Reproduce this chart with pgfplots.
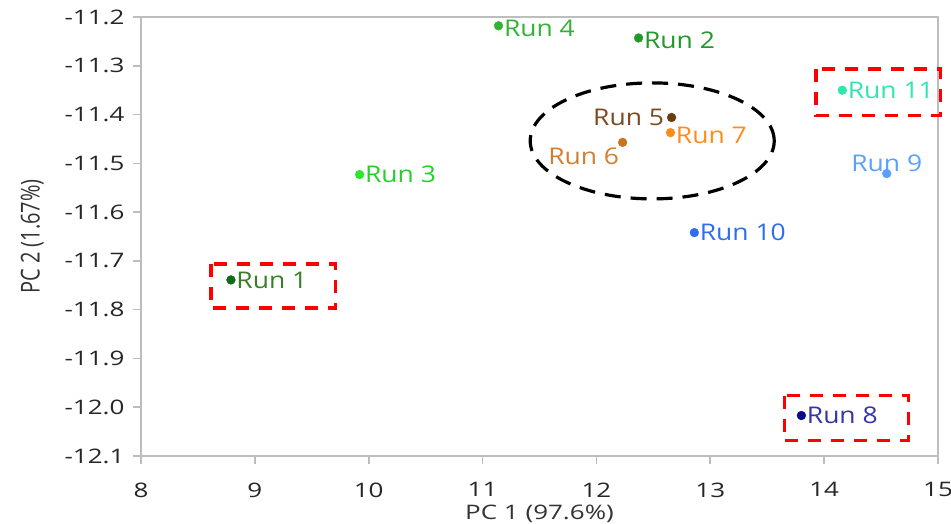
\documentclass[border=0pt]{standalone}
\usepackage{pgfplots}
\pgfplotsset{compat=1.18}
\usepackage{fontspec}
\setmainfont{Open Sans}
\newfontfamily\tickfont[FakeStretch=1.3]{Open Sans}
\newfontfamily\runfont[FakeStretch=1.15]{Open Sans}
\newfontfamily\ylabfont[FakeStretch=0.77]{Open Sans}

\definecolor{axgray}{HTML}{BDBDBD}
\definecolor{c1}{HTML}{0E6B1A}
\definecolor{c2}{HTML}{1F9A2A}
\definecolor{c3}{HTML}{2EE62E}
\definecolor{c4}{HTML}{33B233}
\definecolor{c5}{HTML}{6B3D0E}
\definecolor{c6}{HTML}{C8731E}
\definecolor{c7}{HTML}{FF8C1A}
\definecolor{c8}{HTML}{0A0A8C}
\definecolor{c9}{HTML}{5AA0FF}
\definecolor{c10}{HTML}{2F6CF0}
\definecolor{c11}{HTML}{2EE6B0}
\definecolor{l1}{HTML}{3C7D2A}
\definecolor{l8}{HTML}{3434A8}
\definecolor{l5}{HTML}{7A4A20}
\definecolor{l6}{HTML}{D08030}

\tikzset{run label/.style={font=\runfont\fontsize{23}{23}\selectfont}}

\begin{document}
\begin{tikzpicture}
\useasboundingbox (0,0) rectangle (951pt,523pt);
\begin{axis}[
  at={(141pt,67pt)}, anchor=south west,
  scale only axis, width=797pt, height=439pt,
  xmin=8, xmax=15, ymin=-12.1, ymax=-11.2,
  xtick={8,9,...,15},
  ytick={-12.1,-12.0,-11.9,-11.8,-11.7,-11.6,-11.5,-11.4,-11.3,-11.2},
  yticklabel style={/pgf/number format/fixed, /pgf/number format/fixed zerofill,
    /pgf/number format/precision=1},
  /pgf/number format/assume math mode=true,
  tick label style={font=\tickfont\fontsize{20}{20}\selectfont, text=black!85},
  xticklabel style={yshift=-15pt},
  yticklabel style={xshift=-5pt},
  axis line style={axgray, line width=1.6pt},
  tick style={axgray, line width=1.6pt},
  tick align=outside, major tick length=8pt,
  xtick pos=bottom, ytick pos=left,
  xlabel={PC 1 (97.6\%)}, ylabel={PC 2 (1.67\%)},
  xlabel style={font=\tickfont\fontsize{20}{20}\selectfont, text=black!80, yshift=-1pt},
  ylabel style={font=\ylabfont\fontsize{26}{26}\selectfont, text=black!80, yshift=14pt},
  clip=false,
  every axis plot/.append style={only marks, mark=*, mark size=4.4pt},
]
\addplot[c1, nodes near coords={Run 1},
  every node near coord/.style={run label, anchor=west, xshift=2pt, text=l1}]
  coordinates {(8.79,-11.739)};
\addplot[c2, nodes near coords={Run 2},
  every node near coord/.style={run label, anchor=west, xshift=2pt, yshift=-2pt, text=c2}]
  coordinates {(12.37,-11.243)};
\addplot[c3, nodes near coords={Run 3},
  every node near coord/.style={run label, anchor=west, xshift=2pt, text=c3!90!black}]
  coordinates {(9.92,-11.523)};
\addplot[c4, nodes near coords={Run 4},
  every node near coord/.style={run label, anchor=west, xshift=2pt, yshift=-3pt, text=c4}]
  coordinates {(11.14,-11.218)};
\addplot[c5, nodes near coords={Run 5},
  every node near coord/.style={run label, anchor=east, xshift=-4pt, text=l5}]
  coordinates {(12.66,-11.406)};
\addplot[c6, nodes near coords={Run 6},
  every node near coord/.style={run label, anchor=north east, xshift=0pt, yshift=-2pt, text=l6}]
  coordinates {(12.23,-11.457)};
\addplot[c7, nodes near coords={Run 7},
  every node near coord/.style={run label, anchor=west, xshift=2pt, yshift=-3pt, text=c7}]
  coordinates {(12.65,-11.437)};
\addplot[c8, nodes near coords={Run 8},
  every node near coord/.style={run label, anchor=west, xshift=2pt, text=l8}]
  coordinates {(13.80,-12.017)};
\addplot[c9, nodes near coords={Run 9},
  every node near coord/.style={run label, anchor=south, yshift=-2pt, text=c9}]
  coordinates {(14.55,-11.521)};
\addplot[c10, nodes near coords={Run 10},
  every node near coord/.style={run label, anchor=west, xshift=2pt, text=c10}]
  coordinates {(12.86,-11.642)};
\addplot[c11, nodes near coords={Run 11},
  every node near coord/.style={run label, anchor=west, xshift=2pt, text=c11}]
  coordinates {(14.16,-11.350)};

% highlight boxes around the outlying runs
\draw[red, line width=3.5pt, dash pattern=on 13pt off 10pt]
  (axis cs:8.615,-11.706) rectangle (axis cs:9.71,-11.797);
\draw[red, line width=3.5pt, dash pattern=on 13pt off 10pt]
  (axis cs:13.93,-11.307) rectangle (axis cs:15.02,-11.402);
\draw[red, line width=3.5pt, dash pattern=on 13pt off 10pt]
  (axis cs:13.65,-11.976) rectangle (axis cs:14.74,-12.068);
% cluster of runs 5--7
\draw[black, line width=3.2pt, dash pattern=on 16pt off 10pt]
  (axis cs:12.49,-11.454) ellipse [x radius=122pt, y radius=58pt];
\end{axis}
\end{tikzpicture}
\end{document}
